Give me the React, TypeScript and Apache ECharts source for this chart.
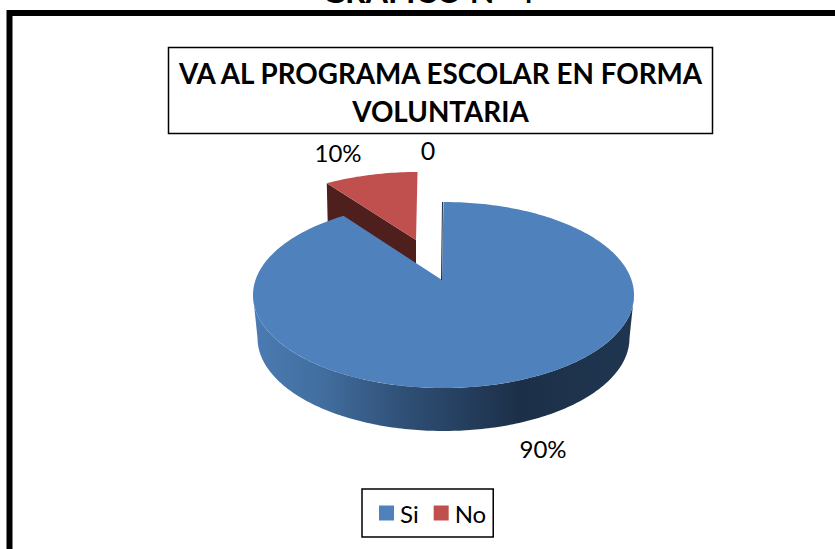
import React, { useEffect, useRef } from "react";
import * as echarts from "echarts";

const categories = ["Si", "No"];
const percents = [90, 10];
const percentLabels = ["90%", "10%"];
const extraLabel = "0";
const colors = ["#4F81BD", "#C0504D"];
const pageHeading = "GRÁFICO N° 4";
const chartTitle = "VA AL PROGRAMA ESCOLAR EN FORMA\nVOLUNTARIA";
const FONT = "Lato, Carlito, 'Open Sans', sans-serif";

const RX = 190.5;
const RX_BOTTOM = 186;
const RY = 93;
const DEPTH = 43;
const BLUE = { cx: 443.5, cy: 295, ax: 442, ay: 280, warp: 0.88 };
const RED = { cx: 417.5, cy: 265, ax: 416, ay: 240, warp: 0.79 };

function pt(c: { cx: number; cy: number }, deg: number, dy = 0, rx = RX): number[] {
  const r = (deg * Math.PI) / 180;
  return [c.cx + rx * Math.sin(r), c.cy - RY * Math.cos(r) + dy];
}

function arc(c: { cx: number; cy: number }, from: number, to: number, dy = 0, rx = RX): number[][] {
  const n = Math.max(2, Math.ceil(Math.abs(to - from)));
  const out: number[][] = [];
  for (let i = 0; i <= n; i++) out.push(pt(c, from + ((to - from) * i) / n, dy, rx));
  return out;
}

function renderBlue(_p: any, api: any) {
  const sweep = (api.value(0) / 100) * 360;
  const end = 360 - (360 - sweep) * BLUE.warp;
  const apex = [BLUE.ax, BLUE.ay];
  const wallGrad = new echarts.graphic.LinearGradient(0, 0, 1, 0, [
    { offset: 0, color: "#4B7BB3" },
    { offset: 0.18, color: "#426E9F" },
    { offset: 0.4, color: "#2F4F75" },
    { offset: 0.7, color: "#1C2F48" },
    { offset: 1, color: "#203650" },
  ]);
  return {
    type: "group",
    children: [
      {
        type: "polygon",
        shape: { points: [...arc(BLUE, 90, 270), ...arc(BLUE, 270, 90, DEPTH, RX_BOTTOM)] },
        style: { fill: wallGrad },
      },
      {
        type: "polygon",
        shape: { points: [apex, ...arc(BLUE, 0, end)] },
        style: { fill: colors[0] },
      },
      {
        type: "polyline",
        shape: { points: [[BLUE.ax - 0.5, BLUE.ay], [BLUE.ax + 0.5, BLUE.cy - RY]] },
        style: { stroke: "#1C2F48", lineWidth: 1, fill: "none" },
      },
    ],
  };
}

function renderRed(_p: any, api: any) {
  const sweep = (api.value(0) / 100) * 360;
  const start = -sweep * RED.warp;
  const a = pt(RED, start);
  const apex = [RED.ax, RED.ay];
  return {
    type: "group",
    children: [
      {
        type: "polygon",
        shape: { points: [a, apex, [apex[0], apex[1] + DEPTH], [a[0] + 1, a[1] + DEPTH]] },
        style: { fill: "#4F1F1E" },
      },
      {
        type: "polygon",
        shape: { points: [apex, ...arc(RED, start, 0)] },
        style: { fill: colors[1] },
      },
    ],
  };
}

export default function App() {
  const ref = useRef<HTMLDivElement>(null);
  useEffect(() => {
    const chart = echarts.init(ref.current!, null, { renderer: "svg" });
    chart.setOption({
      animation: false,
      backgroundColor: "#ffffff",
      title: {
        text: chartTitle,
        left: 431.5,
        top: 47,
        textAlign: "center",
        padding: [7.5, 9, 3.5, 9],
        borderColor: "#000",
        borderWidth: 1.5,
        textStyle: {
          fontFamily: FONT,
          fontWeight: "bold",
          fontSize: 27.8,
          lineHeight: 38,
          color: "#000",
        },
      },
      legend: {
        data: categories,
        left: 362,
        top: 489,
        orient: "horizontal",
        icon: "rect",
        itemWidth: 15,
        itemHeight: 15,
        itemGap: 15,
        padding: [12, 7, 12, 17],
        borderColor: "#000",
        borderWidth: 1.5,
        textStyle: { fontFamily: FONT, fontSize: 24, color: "#000", padding: [0, 0, 2, 1] },
      },
      graphic: [
        {
          type: "rect",
          shape: { x: 9.5, y: 13, width: 900, height: 600 },
          style: { fill: "none", stroke: "#000", lineWidth: 6 },
          silent: true,
          z: -10,
        },
        {
          type: "text",
          x: 428,
          y: -26,
          style: {
            text: pageHeading,
            fontFamily: FONT,
            fontWeight: "bold",
            fontSize: 32,
            fill: "#000",
            align: "center",
          },
        },
        {
          type: "text",
          x: 543,
          y: 436,
          style: { text: percentLabels[0], fontFamily: FONT, fontSize: 24, fill: "#000", align: "center" },
        },
        {
          type: "text",
          x: 338,
          y: 140,
          style: { text: percentLabels[1], fontFamily: FONT, fontSize: 24, fill: "#000", align: "center" },
        },
        {
          type: "text",
          x: 428,
          y: 137,
          style: { text: extraLabel, fontFamily: FONT, fontSize: 25, fill: "#000", align: "center" },
        },
      ],
      series: [
        {
          type: "custom",
          name: categories[0],
          coordinateSystem: "none",
          data: [[percents[0]]],
          silent: true,
          renderItem: renderBlue,
          itemStyle: { color: colors[0] },
          z: 3,
        },
        {
          type: "custom",
          name: categories[1],
          coordinateSystem: "none",
          data: [[percents[1]]],
          silent: true,
          renderItem: renderRed,
          itemStyle: { color: colors[1] },
          z: 2,
        },
      ],
    });
    return () => chart.dispose();
  }, []);
  return <div ref={ref} style={{ position: "absolute", left: 0, top: 0, width: 835, height: 549 }} />;
}
